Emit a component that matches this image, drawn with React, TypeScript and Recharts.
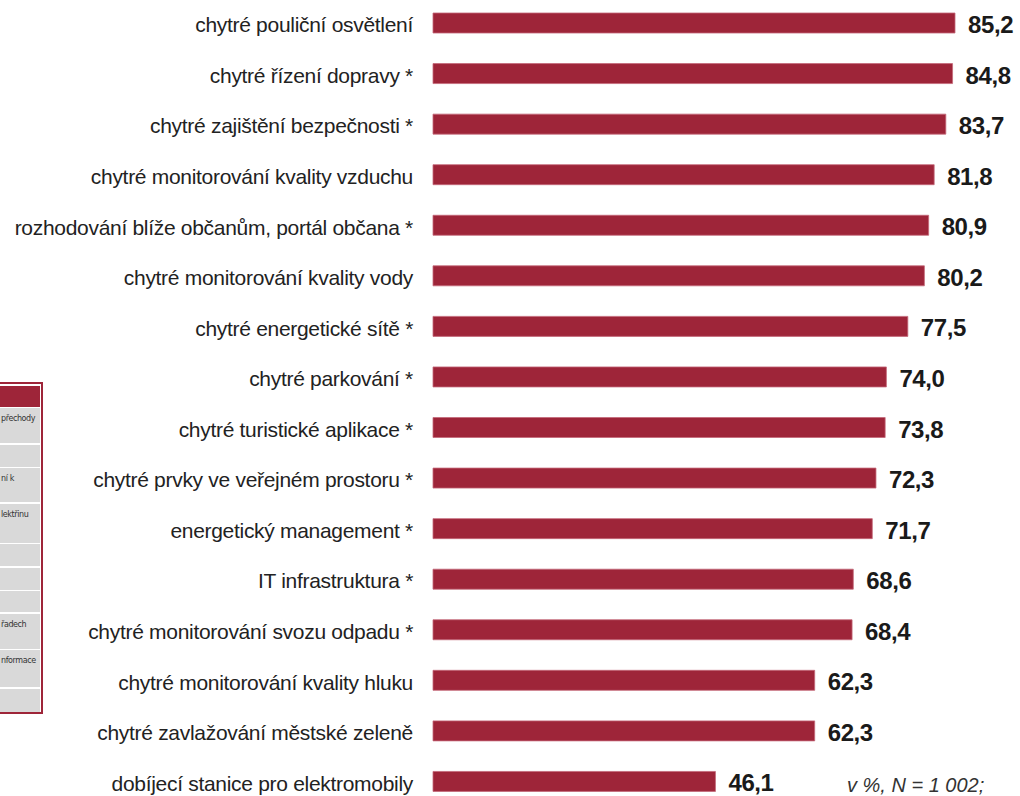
import { BarChart, Bar, XAxis, YAxis, LabelList } from "recharts";

const categories = [
  "chytré pouliční osvětlení",
  "chytré řízení dopravy *",
  "chytré zajištění bezpečnosti *",
  "chytré monitorování kvality vzduchu",
  "rozhodování blíže občanům, portál občana *",
  "chytré monitorování kvality vody",
  "chytré energetické sítě *",
  "chytré parkování *",
  "chytré turistické aplikace *",
  "chytré prvky ve veřejném prostoru *",
  "energetický management *",
  "IT infrastruktura *",
  "chytré monitorování svozu odpadu *",
  "chytré monitorování kvality hluku",
  "chytré zavlažování městské zeleně",
  "dobíjecí stanice pro elektromobily",
];

const values = [85.2, 84.8, 83.7, 81.8, 80.9, 80.2, 77.5, 74.0, 73.8, 72.3, 71.7, 68.6, 68.4, 62.3, 62.3, 46.1];

const noteText = "v %, N = 1 002;";

// cropped table fragment on the left edge of the original slide
const tableTexts = ["přechody", "", "ní k", "lektřinu", "", "", "", "řadech", "nformace", ""];
const tableRowHeights = [35, 22, 34, 39, 22, 22, 21, 35, 37, 23];

const BAR_COLOR = "#9e2539";
const FONT = '"Liberation Sans", Arial, sans-serif';

const data = categories.map((name, i) => ({ name, value: values[i] }));

function CategoryTick({ x, y, payload }: { x?: number; y?: number; payload?: { value: string } }) {
  return (
    <text
      x={x}
      y={y}
      dy={9}
      textAnchor="end"
      fill="#222"
      fontSize={21}
      letterSpacing={-0.3}
      fontFamily={FONT}
    >
      {payload?.value}
    </text>
  );
}

function ValueLabel(props: any) {
  const { x, y, width, height, value } = props;
  return (
    <text
      x={x + width + 13}
      y={y + height / 2}
      dy={10}
      fill="#1a1a1a"
      fontSize={24}
      fontWeight="bold"
      letterSpacing={-0.4}
      fontFamily={FONT}
    >
      {Number(value).toFixed(1).replace(".", ",")}
    </text>
  );
}

function TableFragment() {
  return (
    <div
      style={{
        position: "absolute",
        left: -4,
        top: 382,
        width: 43,
        height: 328,
        border: `2px solid ${BAR_COLOR}`,
        background: "#fff",
        fontFamily: "Tahoma, 'DejaVu Sans', sans-serif",
      }}
    >
      <div style={{ position: "absolute", left: 0, top: 2, width: 42, height: 21, background: BAR_COLOR }} />
      {tableTexts.map((t, i) => {
        const top = 24 + tableRowHeights.slice(0, i).reduce((a, b) => a + b + 1.5, 0);
        return (
          <div
            key={i}
            style={{
              position: "absolute",
              left: 0,
              top,
              width: 42,
              height: tableRowHeights[i],
              background: "#d9d9d9",
              overflow: "hidden",
            }}
          >
            <span
              style={{
                position: "absolute",
                left: 3,
                top: 6,
                fontSize: 8,
                letterSpacing: -0.4,
                color: "#333",
                whiteSpace: "nowrap",
              }}
            >
              {t}
            </span>
          </div>
        );
      })}
    </div>
  );
}

export default function App() {
  return (
    <div
      style={{
        position: "fixed",
        left: 0,
        top: 0,
        width: 1020,
        height: 796,
        overflow: "hidden",
        background: "#fff",
      }}
    >
      <TableFragment />
      <div style={{ position: "absolute", left: 0, top: -2 }}>
        <BarChart
          width={1020}
          height={809}
          data={data}
          layout="vertical"
          margin={{ top: 0, right: 65, bottom: 0, left: 0 }}
        >
          <XAxis type="number" domain={[0, 85.2]} hide />
          <YAxis
            type="category"
            dataKey="name"
            width={433}
            axisLine={false}
            tickLine={false}
            tickSize={0}
            tickMargin={20}
            interval={0}
            tick={<CategoryTick />}
          />
          <Bar
            dataKey="value"
            fill={BAR_COLOR}
            stroke="#c46878"
            strokeWidth={0.8}
            barSize={20}
            isAnimationActive={false}
          >
            <LabelList dataKey="value" content={<ValueLabel />} />
          </Bar>
        </BarChart>
      </div>
      <div
        style={{
          position: "absolute",
          left: 847,
          top: 775,
          fontFamily: FONT,
          fontStyle: "italic",
          fontSize: 20,
          lineHeight: 1,
          color: "#333",
          whiteSpace: "nowrap",
        }}
      >
        {noteText}
      </div>
    </div>
  );
}
